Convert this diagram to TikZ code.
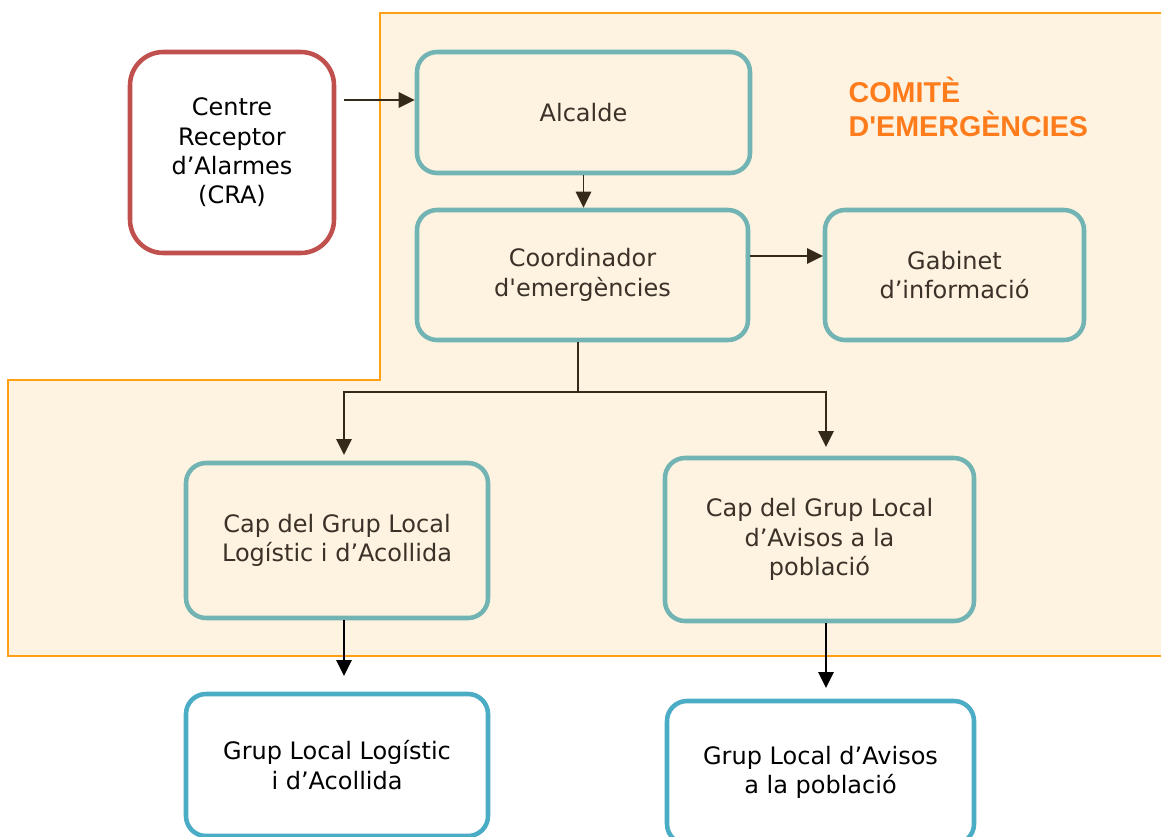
\documentclass[tikz,border=0pt]{standalone}
\usepackage{fontspec}
\setmainfont{DejaVu Sans}
\newfontfamily\titlefont{Liberation Sans}
\usetikzlibrary{arrows.meta}
\definecolor{cream}{RGB}{254,242,224}
\definecolor{orangeline}{RGB}{255,160,20}
\definecolor{tealline}{RGB}{114,180,180}
\definecolor{blueline}{RGB}{75,172,198}
\definecolor{redline}{RGB}{192,80,77}
\definecolor{titleorange}{RGB}{255,124,28}
\definecolor{arrowc}{RGB}{52,42,26}
\definecolor{textc}{RGB}{58,50,40}
\tikzset{
  box/.style={draw, rounded corners=15pt, line width=3.4pt, align=center,
    font=\fontsize{18}{22}\selectfont, inner sep=2pt},
  combox/.style={box, draw=tealline, fill=cream, text=textc},
  grupbox/.style={box, draw=blueline, fill=white, text=black},
  arr/.style={draw=arrowc, line width=1.3pt, -{Triangle[length=12pt,width=11.5pt]}}
}
\begin{document}
\begin{tikzpicture}[x=0.75pt,y=-0.75pt]
  \clip (0,0) rectangle (1161,836);
  \fill[white] (0,0) rectangle (1161,836);
  % comite
  \draw[fill=cream,draw=orangeline,line width=1.6pt]
    (380,13) -- (1175,13) -- (1175,656) -- (8,656) -- (8,380) -- (380,380) -- cycle;
  \node[anchor=north west,align=left,text=titleorange,
    font=\titlefont\bfseries\fontsize{21.5}{25.5}\selectfont] (titol) at (844,72)
    {COMITÈ\\D\textquotesingle EMERGÈNCIES};
  % boxes
  \node[box, draw=redline, fill=white, rounded corners=25pt,
    minimum width=204*0.75pt, minimum height=201*0.75pt] (cra) at (232,152.5)
    {Centre\\Receptor\\d’Alarmes\\(CRA)};
  \node[combox, minimum width=333*0.75pt, minimum height=121*0.75pt] (alc) at (583.5,112.5) {Alcalde};
  \node[combox, minimum width=331*0.75pt, minimum height=130*0.75pt] (coord) at (582.5,275)
    {Coordinador\\d\textquotesingle emergències};
  \node[combox, minimum width=259*0.75pt, minimum height=130*0.75pt] (gab) at (954.5,275)
    {Gabinet\\d’informació};
  \node[combox, minimum width=302*0.75pt, minimum height=155*0.75pt] (caplog) at (337,540.5)
    {Cap del Grup Local\\Logístic i d’Acollida};
  \node[combox, minimum width=309*0.75pt, minimum height=163*0.75pt] (capav) at (819.5,539.5)
    {Cap del Grup Local\\d’Avisos a la\\població};
  \node[grupbox, minimum width=302*0.75pt, minimum height=142*0.75pt] (gruplog) at (337,765)
    {Grup Local Logístic\\i d’Acollida};
  \node[grupbox, minimum width=307*0.75pt, minimum height=143*0.75pt] (grupav) at (820.5,772.5)
    {Grup Local d’Avisos\\a la població};
  % connectors
  \coordinate (craout) at (344,100);
  \draw[arr] (craout) -- (craout -| alc.west);
  \draw[arr] (alc.south) -- (alc.south |- coord.north);
  \coordinate (gabin) at (823,256);
  \draw[arr] (gabin -| coord.east) -- (gabin);
  \coordinate (split) at (578,392);
  \coordinate (logtip) at (344,455);
  \coordinate (avtip) at (826,447);
  \draw[draw=arrowc,line width=1.3pt] (coord.south -| split) -- (split);
  \draw[arr] (split) -| (logtip);
  \draw[arr] (split) -| (avtip);
  \coordinate (grlogtip) at (344,676);
  \coordinate (gravtip) at (826,688);
  \draw[arr,draw=black] (caplog.south -| grlogtip) -- (grlogtip);
  \draw[arr,draw=black] (capav.south -| gravtip) -- (gravtip);
\end{tikzpicture}
\end{document}
